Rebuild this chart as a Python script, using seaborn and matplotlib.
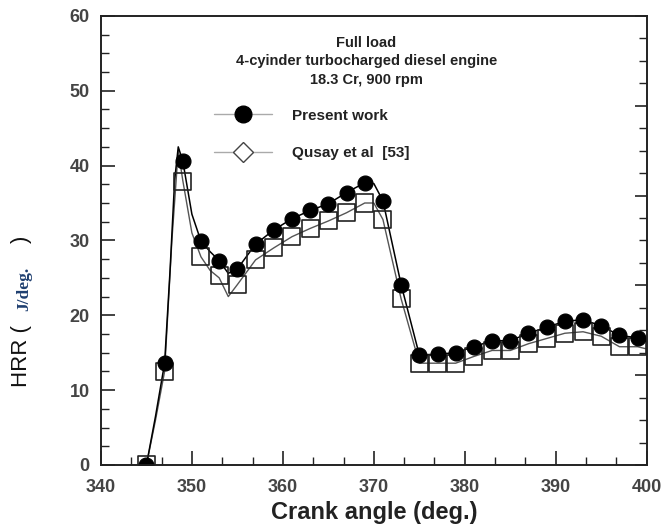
import numpy as np
import seaborn as sns
import matplotlib.pyplot as plt
from matplotlib.lines import Line2D
from matplotlib.ticker import MultipleLocator

# marker points (every 2 deg)
angle = [345, 347, 349, 351, 353, 355, 357, 359, 361, 363, 365, 367, 369, 371,
         373, 375, 377, 379, 381, 383, 385, 387, 389, 391, 393, 395, 397, 399]
present = [0.0, 13.6, 40.6, 29.9, 27.3, 26.2, 29.5, 31.4, 32.9, 34.0, 34.9, 36.4, 37.7, 35.3,
           24.1, 14.7, 14.8, 15.0, 15.8, 16.6, 16.6, 17.6, 18.4, 19.2, 19.4, 18.6, 17.3, 17.0]
qusay = [0.0, 12.5, 37.9, 27.8, 25.3, 24.1, 27.4, 29.0, 30.5, 31.6, 32.6, 33.7, 35.0, 32.8,
         22.2, 13.6, 13.6, 13.6, 14.5, 15.3, 15.3, 16.2, 16.9, 17.6, 17.8, 17.2, 15.8, 15.8]

# the continuous curves behind the markers
present_curve_x = [345, 346, 347, 347.6, 348.1, 348.5, 349, 350, 351, 352, 353, 354, 355, 357, 359,
                   361, 363, 365, 367, 369, 370, 371, 373, 375, 377, 379, 381, 383, 385, 387,
                   389, 391, 393, 395, 397, 399, 400]
present_curve_y = [0.0, 6.5, 13.6, 26.0, 38.0, 42.5, 40.6, 33.5, 29.9, 28.5, 27.3, 25.6, 26.2, 29.5, 31.4,
                   32.9, 34.0, 34.9, 36.4, 37.7, 37.6, 35.3, 24.1, 14.7, 14.8, 15.0, 15.8, 16.6, 16.6, 17.6,
                   18.4, 19.2, 19.4, 18.6, 17.3, 17.0, 16.5]
qusay_curve_x = [345, 346, 347, 347.8, 348.5, 349, 350, 351, 352, 353, 354, 355, 357, 359,
                 361, 363, 365, 367, 369, 370, 371, 373, 375, 377, 379, 381, 383, 385, 387,
                 389, 391, 393, 395, 397, 399, 400]
qusay_curve_y = [0.0, 6.0, 12.5, 30.0, 42.0, 38.0, 31.0, 27.8, 26.0, 25.0, 22.5, 24.1, 27.4, 29.0,
                 30.5, 31.6, 32.6, 33.7, 35.0, 35.0, 32.8, 22.2, 13.6, 13.6, 13.6, 14.5, 15.3, 15.3, 16.2,
                 16.9, 17.6, 17.8, 17.2, 15.8, 15.8, 15.5]

title_lines = ["Full load", "4-cyinder turbocharged diesel engine", "18.3 Cr, 900 rpm"]
series_names = ["Present work", "Qusay et al  [53]"]

sns.set_style("ticks")
plt.rcParams['font.family'] = ['Liberation Sans', 'DejaVu Sans']

fig = plt.figure(figsize=(6.64, 5.29), dpi=100)
ax = fig.add_axes([0.152, 0.121, 0.822, 0.849])

sns.lineplot(x=qusay_curve_x, y=qusay_curve_y, ax=ax, color="#555555", linewidth=1.0,
             sort=False, estimator=None)
sns.lineplot(x=present_curve_x, y=present_curve_y, ax=ax, color="black", linewidth=1.1,
             sort=False, estimator=None)
sns.scatterplot(x=angle, y=qusay, ax=ax, marker="s", s=150, facecolors="none",
                edgecolor="#222222", linewidth=1.2, zorder=3)
sns.scatterplot(x=angle, y=present, ax=ax, marker="o", s=115, color="black",
                edgecolor="black", zorder=4)

ax.set_xlim(340, 400)
ax.set_ylim(0, 60)
ax.xaxis.set_major_locator(MultipleLocator(10))
ax.xaxis.set_minor_locator(MultipleLocator(10 / 3))
ax.yaxis.set_major_locator(MultipleLocator(10))
ax.yaxis.set_minor_locator(MultipleLocator(2.5))
ax.tick_params(which="major", direction="in", length=10, width=1.2, colors="#222222",
               labelsize=13, labelcolor="#444444", top=False, right=False)
ax.tick_params(which="minor", direction="in", length=6, width=1.0, colors="#222222",
               top=False, right=False)
ax.tick_params(axis="x", which="major", pad=10)
ax.tick_params(axis="y", which="major", pad=8)
for lab in ax.get_xticklabels() + ax.get_yticklabels():
    lab.set_fontweight("bold")

# right side has its own tick spacing
ax2 = ax.twinx()
ax2.set_ylim(0, 60)
ax2.yaxis.set_major_locator(MultipleLocator(12))
ax2.yaxis.set_minor_locator(MultipleLocator(3))
ax2.tick_params(which="major", direction="in", length=9, width=1.2, colors="#222222", labelright=False)
ax2.tick_params(which="minor", direction="in", length=6, width=1.0, colors="#222222")

for a in (ax, ax2):
    for sp in a.spines.values():
        sp.set_linewidth(1.2)
        sp.set_color("#222222")

ax.set_xlabel("Crank angle (deg.)", fontsize=17, fontweight="bold", color="#222222", labelpad=4)
ax.set_ylabel("")
fig.text(0.033, 0.268, "HRR (", rotation=90, fontsize=16, color="#111111", va="bottom", ha="center")
fig.text(0.036, 0.412, "J/deg.", rotation=90, fontsize=12.5, color="#1f3f70", family="Liberation Serif",
         fontweight="bold", va="bottom", ha="center")
fig.text(0.033, 0.54, ")", rotation=90, fontsize=16, color="#111111", va="bottom", ha="center")

for txt, yv in zip(title_lines, [56.4, 54.0, 51.4]):
    ax.text(369.2, yv, txt, ha="center", va="center", fontsize=10.5, fontweight="bold", color="#222222")

handles = [
    Line2D([], [], color="#aaaaaa", linewidth=1.0, marker="o", markersize=12,
           markerfacecolor="black", markeredgecolor="black"),
    Line2D([], [], color="#aaaaaa", linewidth=1.0, marker="D", markersize=10,
           markerfacecolor="white", markeredgecolor="#444444"),
]
ax.legend(handles, series_names, loc="upper left",
          bbox_to_anchor=(352.4, 47.6), bbox_transform=ax.transData, frameon=False,
          handlelength=3.8, handletextpad=1.3, labelspacing=1.55, borderpad=0, borderaxespad=0,
          prop={"size": 11, "weight": "bold"}, labelcolor="#222222")

fig.savefig("out.png", dpi=100)
